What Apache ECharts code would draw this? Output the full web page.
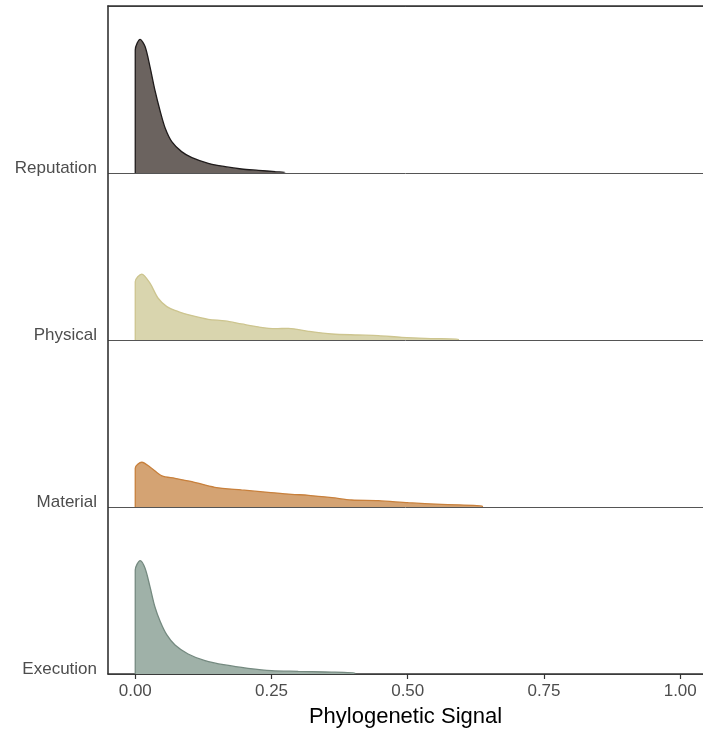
<!DOCTYPE html>
<html>
<head>
<meta charset="utf-8">
<script src="https://cdn.jsdelivr.net/npm/echarts@6/dist/echarts.min.js"></script>
<style>
  html, body { margin: 0; padding: 0; background: #fff; }
  #main { width: 703px; height: 730px; }
</style>
</head>
<body>
<div id="main"></div>
<script>
var chartDom = document.getElementById('main');
var myChart = echarts.init(chartDom);

// ridge names, bottom to top
const groups = ['Execution', 'Material', 'Physical', 'Reputation'];

// x tick positions on the bottom axis
const xTicks = [0, 0.25, 0.5, 0.75, 1.0];

// density curves: [signal, height] (height in ridge units)
const execution = [
    [0, 0], [0, 0.623], [0.009, 0.679], [0.018, 0.633], [0.027, 0.523], [0.036, 0.403],
    [0.046, 0.313], [0.058, 0.234], [0.073, 0.174], [0.097, 0.120], [0.128, 0.080],
    [0.165, 0.054], [0.207, 0.034], [0.25, 0.020], [0.299, 0.016], [0.348, 0.012],
    [0.403, 0.006], [0.403, 0]
];
const material = [
    [0, 0], [0, 0.232], [0.012, 0.268], [0.03, 0.232], [0.049, 0.186], [0.073, 0.172],
    [0.104, 0.152], [0.146, 0.118], [0.195, 0.102], [0.244, 0.088], [0.287, 0.076],
    [0.318, 0.070], [0.361, 0.056], [0.397, 0.042], [0.446, 0.038], [0.501, 0.026],
    [0.562, 0.016], [0.637, 0.006], [0.637, 0]
];
const physical = [
    [0, 0], [0, 0.349], [0.012, 0.395], [0.027, 0.340], [0.042, 0.250], [0.058, 0.200],
    [0.079, 0.170], [0.104, 0.146], [0.134, 0.124], [0.165, 0.114], [0.195, 0.096],
    [0.226, 0.078], [0.257, 0.068], [0.281, 0.070], [0.318, 0.052], [0.361, 0.036],
    [0.409, 0.030], [0.446, 0.026], [0.489, 0.016], [0.532, 0.010], [0.593, 0.005],
    [0.593, 0]
];
const reputation = [
    [0, 0], [0, 0.737], [0.009, 0.800], [0.018, 0.757], [0.027, 0.637], [0.036, 0.497],
    [0.046, 0.367], [0.055, 0.268], [0.067, 0.188], [0.085, 0.128], [0.104, 0.092],
    [0.134, 0.058], [0.165, 0.038], [0.195, 0.024], [0.226, 0.016], [0.257, 0.008],
    [0.275, 0.004], [0.275, 0]
];

const curves = [execution, material, physical, reputation];
const fills = ['#9fb1a8', '#d4a373', '#d9d5ae', '#6b635f'];
const strokes = ['#758a80', '#c8803c', '#cdc58f', '#1f1b1b'];

const series = curves.map(function (curve, i) {
    return {
        name: groups[i],
        type: 'line',
        data: curve.map(function (p) { return [p[0], i + p[1]]; }),
        symbol: 'none',
        smooth: 0.3,
        lineStyle: { color: strokes[i], width: 1.3 },
        areaStyle: { color: fills[i], opacity: 1, origin: i },
        z: 3
    };
});

const xMin = -0.05, xMax = 1.0418;

const option = {
    animation: false,
    grid: { left: 108, right: 0, top: 6, bottom: 56, outerBoundsMode: 'none' },
    xAxis: [
        {
            type: 'value',
            min: xMin,
            max: xMax,
            name: 'Phylogenetic Signal',
            nameLocation: 'middle',
            nameGap: 32,
            nameTextStyle: { color: '#000', fontSize: 22, fontFamily: 'Liberation Sans' },
            axisLine: { show: true, onZero: false, lineStyle: { color: '#333', width: 1.6 } },
            axisTick: { show: true, length: 5, customValues: xTicks, lineStyle: { color: '#333', width: 1.2 } },
            axisLabel: {
                customValues: xTicks,
                formatter: function (v) { return v.toFixed(2); },
                color: '#4d4d4d',
                fontSize: 17,
                fontFamily: 'Liberation Sans',
                margin: 9
            },
            splitLine: { show: false }
        },
        {
            type: 'value',
            position: 'top',
            min: xMin,
            max: xMax,
            axisLine: { show: true, onZero: false, lineStyle: { color: '#333', width: 1.6 } },
            axisTick: { show: false },
            axisLabel: { show: false },
            splitLine: { show: false }
        }
    ],
    yAxis: {
        type: 'value',
        min: 0,
        max: 4,
        interval: 1,
        axisLine: { show: true, onZero: false, lineStyle: { color: '#333', width: 1.6 } },
        axisTick: { show: false },
        axisLabel: {
            formatter: function (v) { return groups[v] || ''; },
            verticalAlign: 'bottom',
            lineHeight: 10,
            color: '#4d4d4d',
            fontSize: 17,
            fontFamily: 'Liberation Sans',
            margin: 11
        },
        splitLine: { show: true, lineStyle: { color: '#555', width: 1 } }
    },
    series: series
};

myChart.setOption(option);
</script>
</body>
</html>
